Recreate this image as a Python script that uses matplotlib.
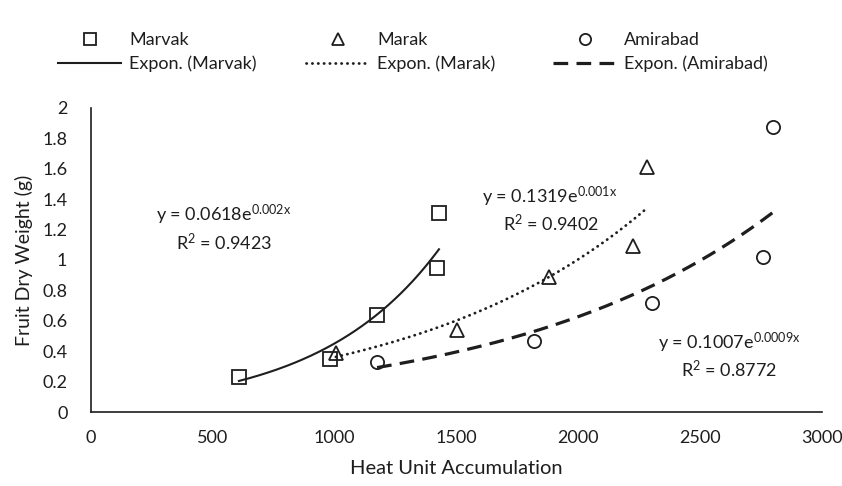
import numpy as np
import matplotlib
matplotlib.use("Agg")
import matplotlib.pyplot as plt
from matplotlib.lines import Line2D

plt.rcParams['font.family'] = ['Lato', 'DejaVu Sans']
plt.rcParams['mathtext.fontset'] = 'custom'
plt.rcParams['mathtext.rm'] = 'Lato'
plt.rcParams['mathtext.it'] = 'Lato:italic'

# ---- data ----
marvak_x = [607, 981, 1174, 1420, 1428]
marvak_y = [0.23, 0.35, 0.64, 0.95, 1.31]
marak_x = [1005, 1502, 1879, 2224, 2282]
marak_y = [0.39, 0.54, 0.89, 1.09, 1.61]
amirabad_x = [1174, 1818, 2302, 2758, 2799]
amirabad_y = [0.33, 0.47, 0.72, 1.02, 1.875]

series_names = ["Marvak", "Marak", "Amirabad"]
eq_texts = [r"y = 0.0618e$^{\mathregular{0.002x}}$",
            r"y = 0.1319e$^{\mathregular{0.001x}}$",
            r"y = 0.1007e$^{\mathregular{0.0009x}}$"]
r2_texts = [r"R$^{\mathregular{2}}$ = 0.9423",
            r"R$^{\mathregular{2}}$ = 0.9402",
            r"R$^{\mathregular{2}}$ = 0.8772"]
xticks = [0, 500, 1000, 1500, 2000, 2500, 3000]
yticks = [0, 0.2, 0.4, 0.6, 0.8, 1, 1.2, 1.4, 1.6, 1.8, 2]
ytick_labels = ["0", "0.2", "0.4", "0.6", "0.8", "1", "1.2", "1.4", "1.6", "1.8", "2"]

W, H = 842, 486
fig = plt.figure(figsize=(W / 100, H / 100), dpi=100)
ax = fig.add_axes([91 / W, 1 - 412 / H, (822 - 91) / W, (412 - 108) / H])

TC = '#1e1e1e'
markers = ['s', '^', 'o']
msizes = [10.5, 10, 9.5]
styles = ['-', (0, (0.1, 2.0)), (0, (4.6, 2.6))]
lws = [1.5, 2.0, 2.3]
caps = ['butt', 'round', 'butt']

data = [(marvak_x, marvak_y), (marak_x, marak_y), (amirabad_x, amirabad_y)]
point_handles = []
line_handles = []
for i, (xs, ys) in enumerate(data):
    xs = np.array(xs, float)
    ys = np.array(ys, float)
    ax.plot(xs, ys, linestyle='none', marker=markers[i], markersize=msizes[i],
            markerfacecolor='none', markeredgecolor=TC, markeredgewidth=1.3, zorder=3)
    b, a = np.polyfit(xs, np.log(ys), 1)
    xf = np.linspace(xs.min(), xs.max(), 300)
    yf = np.exp(a) * np.exp(b * xf)
    ax.plot(xf, yf, linestyle=styles[i], color=TC, linewidth=lws[i],
            dash_capstyle=caps[i], zorder=2)
    point_handles.append(Line2D([], [], linestyle='none', marker=markers[i],
                                markersize=msizes[i] * 0.85, markerfacecolor='none',
                                markeredgecolor=TC, markeredgewidth=1.3))
    line_handles.append(Line2D([], [], linestyle=styles[i], color=TC, linewidth=lws[i],
                               dash_capstyle=caps[i]))

ax.set_xlim(0, 3000)
ax.set_ylim(0, 2)
ax.set_xticks(xticks)
ax.set_yticks(yticks)
ax.set_yticklabels(ytick_labels)
ax.tick_params(length=0, labelsize=13, colors=TC, pad=13)
ax.tick_params(axis='y', pad=17)
for s in ['top', 'right']:
    ax.spines[s].set_visible(False)
for s in ['left', 'bottom']:
    ax.spines[s].set_color(TC)
    ax.spines[s].set_linewidth(1.2)

ax.set_xlabel("Heat Unit Accumulation", fontsize=14.5, color=TC, labelpad=10)
ax.set_ylabel("Fruit Dry Weight (g)", fontsize=14, color=TC, labelpad=7)

# equation annotations
eq_pos = [(224, 215, 224, 242), (550, 197, 551, 223), (729, 343, 729, 370)]
for i, (ex, ey, rx, ry) in enumerate(eq_pos):
    fig.text(ex / W, 1 - ey / H, eq_texts[i], ha='center', va='center', fontsize=13, color=TC)
    fig.text(rx / W, 1 - ry / H, r2_texts[i], ha='center', va='center', fontsize=13, color=TC)

# legend: three columns, two rows
col_x = [58, 306, 553]
row_y = [40, 64]
for i in range(3):
    for r, (h, lab) in enumerate([(point_handles[i], series_names[i]),
                                   (line_handles[i], "Expon. (%s)" % series_names[i])]):
        fig.legend(handles=[h], labels=[lab], loc='center left',
                   bbox_to_anchor=(col_x[i] / W, 1 - row_y[r] / H),
                   bbox_transform=fig.transFigure, frameon=False,
                   fontsize=13, handlelength=3.5, handletextpad=0.45,
                   borderpad=0, borderaxespad=0, labelcolor=TC, numpoints=1)

fig.savefig("out.png", dpi=100)
